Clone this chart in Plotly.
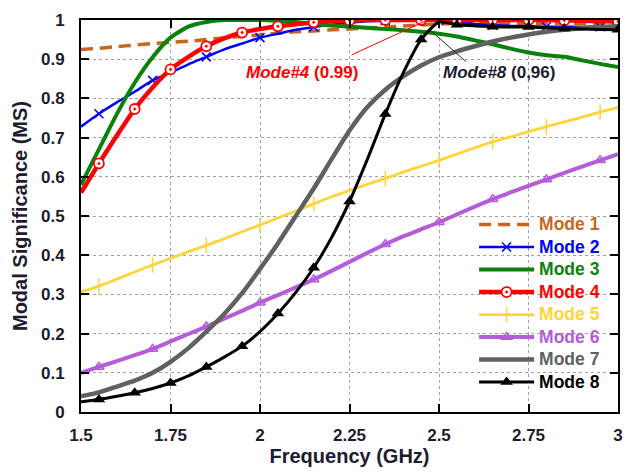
import plotly.graph_objects as go

# ---------------- data ----------------
freq = [1.5, 1.55, 1.6, 1.65, 1.7, 1.75, 1.8, 1.85, 1.9, 1.95, 2.0, 2.05, 2.1, 2.15, 2.2,
        2.25, 2.3, 2.35, 2.4, 2.45, 2.5, 2.55, 2.6, 2.65, 2.7, 2.75, 2.8, 2.85, 2.9, 2.95, 3.0]

mode1 = [0.925, 0.928, 0.932, 0.936, 0.940, 0.943, 0.946, 0.950, 0.955, 0.958, 0.962, 0.966,
         0.970, 0.972, 0.975, 0.977, 0.980, 0.982, 0.985, 0.987, 0.990, 0.991, 0.992, 0.992,
         0.992, 0.992, 0.992, 0.992, 0.992, 0.992, 0.992]
mode2 = [0.728, 0.761, 0.790, 0.817, 0.846, 0.866, 0.887, 0.906, 0.925, 0.940, 0.955, 0.965,
         0.975, 0.982, 0.988, 0.993, 0.997, 0.999, 1.000, 1.000, 1.000, 0.995, 0.990, 0.987,
         0.985, 0.984, 0.983, 0.983, 0.983, 0.983, 0.983]
mode3 = [0.580, 0.670, 0.760, 0.840, 0.905, 0.955, 0.983, 0.995, 1.000, 1.000, 1.000, 0.998,
         0.995, 0.990, 0.986, 0.983, 0.980, 0.977, 0.974, 0.970, 0.965, 0.958, 0.948, 0.938,
         0.927, 0.917, 0.910, 0.906, 0.897, 0.888, 0.880]
mode4 = [0.560, 0.634, 0.705, 0.773, 0.828, 0.874, 0.906, 0.933, 0.953, 0.968, 0.977, 0.984,
         0.989, 0.994, 0.997, 0.999, 1.000, 1.000, 1.000, 1.000, 1.000, 1.000, 1.000, 1.000,
         1.000, 1.000, 1.000, 0.999, 0.998, 0.997, 0.996]
mode5 = [0.306, 0.321, 0.339, 0.357, 0.375, 0.392, 0.409, 0.425, 0.442, 0.460, 0.477, 0.495,
         0.513, 0.531, 0.549, 0.565, 0.581, 0.596, 0.612, 0.627, 0.642, 0.658, 0.674, 0.689,
         0.702, 0.715, 0.728, 0.740, 0.752, 0.765, 0.777]
mode6 = [0.100, 0.115, 0.130, 0.145, 0.161, 0.180, 0.199, 0.218, 0.238, 0.258, 0.279, 0.298,
         0.318, 0.338, 0.360, 0.383, 0.406, 0.428, 0.448, 0.466, 0.484, 0.504, 0.524, 0.543,
         0.560, 0.577, 0.593, 0.610, 0.626, 0.642, 0.658]
mode7 = [0.040, 0.050, 0.065, 0.080, 0.100, 0.128, 0.163, 0.205, 0.250, 0.303, 0.365, 0.430,
         0.500, 0.570, 0.645, 0.718, 0.778, 0.822, 0.856, 0.884, 0.905, 0.920, 0.933, 0.945,
         0.955, 0.963, 0.970, 0.975, 0.979, 0.982, 0.984]
mode8 = [0.026, 0.032, 0.040, 0.049, 0.060, 0.074, 0.092, 0.115, 0.140, 0.168, 0.205, 0.251,
         0.305, 0.368, 0.445, 0.537, 0.645, 0.760, 0.865, 0.950, 0.995, 0.988, 0.985, 0.983,
         0.982, 0.982, 0.980, 0.978, 0.977, 0.976, 0.975]

# frequencies where markers are drawn
marks_a = [1.55, 1.7, 1.85, 2.0, 2.15, 2.35, 2.5, 2.65, 2.8, 2.95]          # modes 2, 5, 6
marks_b = [1.55, 1.65, 1.75, 1.85, 1.95, 2.05, 2.15, 2.25, 2.35, 2.45,
           2.55, 2.65, 2.75, 2.85, 3.0]                                      # modes 4, 8

mode_names = ["Mode 1", "Mode 2", "Mode 3", "Mode 4", "Mode 5", "Mode 6", "Mode 7", "Mode 8"]
x_ticks = [1.5, 1.75, 2, 2.25, 2.5, 2.75, 3]
x_tick_text = ["1.5", "1.75", "2", "2.25", "2.5", "2.75", "3"]
y_ticks = [0, 0.1, 0.2, 0.3, 0.4, 0.5, 0.6, 0.7, 0.8, 0.9, 1]
y_tick_text = ["0", "0.1", "0.2", "0.3", "0.4", "0.5", "0.6", "0.7", "0.8", "0.9", "1"]

# callouts: point on curve, line start near label, label position
callout4 = dict(point=(2.461, 0.997), start=(2.256, 0.911), text=(2.117, 0.866))
callout8 = dict(point=(2.478, 0.972), start=(2.575, 0.894), text=(2.667, 0.866))

# ---------------- styles ----------------
series = [mode1, mode2, mode3, mode4, mode5, mode6, mode7, mode8]
colors = ["#C8661E", "#0000FF", "#0A820A", "#FF0000", "#FFD43B", "#B45CDA", "#606060", "#000000"]
widths = [3.5, 2.5, 4, 4.5, 2.8, 4, 4.5, 3]
dashes = ["12px,7px", "solid", "solid", "solid", "solid", "solid", "solid", "solid"]
markers = [None,
           dict(symbol="x-thin", size=9, color="#0000FF", line=dict(color="#0000FF", width=1.5)),
           None,
           dict(symbol="circle-dot", size=10, color="white", line=dict(color="#FF0000", width=1.8)),
           dict(symbol="line-ns", size=11, color="#FFD43B", line=dict(color="#FFD43B", width=1.5)),
           dict(symbol="triangle-up-open", size=9, color="#B45CDA", line=dict(color="#B45CDA", width=1.5)),
           None,
           dict(symbol="triangle-up", size=11, color="#000000", line=dict(color="#000000", width=0))]
mark_sets = [None, marks_a, None, marks_b, marks_a, marks_a, None, marks_b]

TXT = "#1c1c30"
FONT = "Liberation Sans, Arial, sans-serif"

fig = go.Figure()
for i, ys in enumerate(series):
    fig.add_trace(go.Scatter(x=freq, y=ys, mode="lines", showlegend=False,
                             legendgroup=mode_names[i],
                             line=dict(color=colors[i], width=widths[i], dash=dashes[i],
                                       shape="spline", smoothing=0.6)))
    if mark_sets[i] is not None:
        mx = [f for f in freq if any(abs(f - m) < 1e-9 for m in mark_sets[i])]
        my = [ys[k] for k, f in enumerate(freq) if any(abs(f - m) < 1e-9 for m in mark_sets[i])]
        fig.add_trace(go.Scatter(x=mx, y=my, mode="markers", showlegend=False,
                                 legendgroup=mode_names[i], marker=markers[i]))

# legend-only entries
for i in range(8):
    lm = "lines+markers" if markers[i] is not None else "lines"
    kw = dict(marker=markers[i]) if markers[i] is not None else {}
    fig.add_trace(go.Scatter(x=[None], y=[None], mode=lm, legendgroup=mode_names[i],
                             name=f"<span style='color:{colors[i]};font-size:17.5px'>{mode_names[i]}</span>",
                             line=dict(color=colors[i], width=widths[i], dash=dashes[i]), **kw))

# callout lines
fig.add_shape(type="line", x0=callout4["start"][0], y0=callout4["start"][1],
              x1=callout4["point"][0], y1=callout4["point"][1],
              line=dict(color="#FF0000", width=1))
fig.add_shape(type="line", x0=callout8["start"][0], y0=callout8["start"][1],
              x1=callout8["point"][0], y1=callout8["point"][1],
              line=dict(color="#303030", width=1))
fig.add_annotation(x=callout4["text"][0], y=callout4["text"][1], showarrow=False,
                   text="<b><i>Mode#4</i> (0.99)</b>",
                   font=dict(family=FONT, size=17, color="#FF0000"))
fig.add_annotation(x=callout8["text"][0], y=callout8["text"][1], showarrow=False,
                   text="<b><i>Mode#8</i> (0,96)</b>",
                   font=dict(family=FONT, size=17, color=TXT))

axis_common = dict(showline=True, linecolor="black", linewidth=2, mirror="ticks",
                   ticks="inside", ticklen=8, tickwidth=2, tickcolor="black",
                   showgrid=True, gridcolor="#a0a0a0", gridwidth=1, griddash="3px,3px",
                   zeroline=False,
                   tickfont=dict(family=FONT, size=17, color=TXT, weight="bold"))

fig.update_xaxes(range=[1.5, 3], tickvals=x_ticks, ticktext=x_tick_text,
                 ticklabelstandoff=7,
                 title=dict(text="<b>Frequency (GHz)</b>", standoff=4,
                            font=dict(family=FONT, size=20, color=TXT)),
                 **axis_common)
fig.update_yaxes(range=[0, 1], tickvals=y_ticks, ticktext=y_tick_text,
                 ticklabelstandoff=11,
                 title=dict(text="<b>Modal Significance (MS)</b>", standoff=8,
                            font=dict(family=FONT, size=20, color=TXT)),
                 **axis_common)

fig.update_layout(
    width=634, height=476,
    margin=dict(l=81, r=11, t=17, b=64),
    paper_bgcolor="white", plot_bgcolor="white",
    font=dict(family=FONT, size=17, color=TXT),
    legend=dict(x=0.732, y=0.035, xanchor="left", yanchor="bottom",
                bgcolor="rgba(0,0,0,0)", borderwidth=0,
                itemwidth=55, tracegroupgap=0,
                font=dict(family=FONT, size=15, color=TXT, weight="bold")),
)

fig.write_html("out.html")
